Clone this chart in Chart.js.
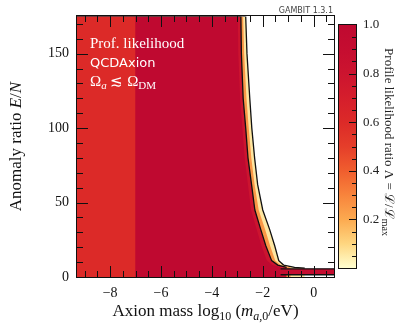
<!DOCTYPE html>
<html>
<head>
<meta charset="utf-8">
<script src="https://cdn.jsdelivr.net/npm/chart.js@4.4.1/dist/chart.umd.min.js"></script>
<style>
  html, body { margin: 0; padding: 0; background: #fff; overflow: hidden; }
  #wrap { position: relative; width: 407px; height: 331px; }
  #main { position: absolute; left: 0; top: 0; }
</style>
</head>
<body>
<div id="wrap">
  <canvas id="main" width="407" height="331"></canvas>
</div>
<script>
// Axis ranges and tick labels
const massRange = [-9.3, 0.8];
const ratioRange = [0, 175];
const massTicks = [-8, -6, -4, -2, 0];
const ratioTicks = [0, 50, 100, 150];
const lambdaTicks = [0.2, 0.4, 0.6, 0.8, 1.0];

// Contour edges: E/N against log10(m_a,0 / eV)
const fringeRatio = [175, 150, 120, 100, 80, 62, 45, 32, 21, 11, 8, 6.5];
const fringeMass = [-2.98, -2.96, -2.89, -2.80, -2.71, -2.58, -2.46, -2.24, -2.05, -1.84, -1.62, -1.30];
const innerRatio = [175, 150, 120, 100, 80, 62, 45, 32, 21, 11, 8, 6.5];
const innerMass = [-2.86, -2.84, -2.77, -2.67, -2.58, -2.44, -2.31, -2.08, -1.88, -1.65, -1.41, -1.06];
const midRatio = [175, 150, 120, 100, 80, 62, 45, 32, 21, 11, 8, 6.4];
const midMass = [-2.77, -2.73, -2.64, -2.55, -2.45, -2.32, -2.16, -1.91, -1.71, -1.51, -1.30, -0.90];
const outerRatio = [175, 150, 120, 100, 80, 62, 45, 32, 21, 11, 8, 6.5, 6.0];
const outerMass = [-2.67, -2.62, -2.51, -2.43, -2.32, -2.20, -2.00, -1.73, -1.53, -1.37, -1.18, -0.75, -0.35];

// Low-mass strip and the narrow E/N ~ 2 band at high mass
const lowMassEdge = -7.0;
const bandMass = [-1.3, 0.8];
const bandRatio = [1.5, 5.5];

// Profile likelihood ratio of each region
const lambdaLowMass = 0.6;
const lambdaBulk = 1.0;
const lambdaFringe = 0.8;
const lambdaBand = 0.9;
const lambdaOrange = 0.25;
const lambdaYellow = 0.06;

// colour map (pale yellow -> orange -> crimson)
const cmapStops = [
  [0.0, [255, 255, 208]], [0.1, [254, 214, 128]], [0.2, [252, 170, 80]],
  [0.3, [248, 132, 60]], [0.4, [240, 94, 46]], [0.5, [229, 62, 42]],
  [0.6, [220, 42, 40]], [0.7, [213, 30, 44]], [0.8, [204, 20, 47]],
  [0.9, [197, 13, 48]], [1.0, [191, 9, 48]]
];

function cmap(v) {
    for (let i = 1; i < cmapStops.length; i++) {
        const [v1, c1] = cmapStops[i];
        const [v0, c0] = cmapStops[i - 1];
        if (v <= v1) {
            const t = (v - v0) / (v1 - v0);
            const c = c0.map((k, j) => Math.round(k + t * (c1[j] - k)));
            return `rgb(${c[0]}, ${c[1]}, ${c[2]})`;
        }
    }
    const c = cmapStops[cmapStops.length - 1][1];
    return `rgb(${c[0]}, ${c[1]}, ${c[2]})`;
}

// contour polygon: start at top-left corner, then follow the edge down
function edgePoints(masses, ratios) {
    const pts = [{ x: massRange[0], y: ratios[0] }];
    masses.forEach((m, i) => pts.push({ x: m, y: ratios[i] }));
    return pts;
}

function minus(v) {
    return v < 0 ? '\u2212' + Math.abs(v) : String(v);
}

// draw a run of text pieces [text, font, dy] centred on x
function drawRich(ctx, parts, x, y, align) {
    let w = 0;
    parts.forEach(p => { ctx.font = p[1]; w += ctx.measureText(p[0]).width; });
    let cx = align === 'left' ? x : x - w / 2;
    ctx.textAlign = 'left';
    ctx.textBaseline = 'alphabetic';
    parts.forEach(p => {
        ctx.font = p[1];
        ctx.fillText(p[0], cx, y + (p[2] || 0));
        cx += ctx.measureText(p[0]).width;
    });
}

const SERIF = 'Liberation Serif';
const SANS = 'DejaVu Sans';
const INK = '#111111';

// colour bar box (canvas pixels)
const CB = { left: 339, right: 356, top: 25, bottom: 268 };

function drawColorbar(ctx) {
    const h = CB.bottom - CB.top;
    const toPx = v => CB.bottom - v * h;
    const g = ctx.createLinearGradient(0, CB.bottom, 0, CB.top);
    cmapStops.forEach(([v]) => g.addColorStop(v, cmap(v)));
    ctx.fillStyle = g;
    ctx.fillRect(CB.left, CB.top, CB.right - CB.left, h);
    ctx.fillStyle = INK;
    for (let k = 1; k < 20; k++) {
        const py = Math.round(toPx(k / 20));
        const len = k % 4 === 0 ? 7 : 4;
        ctx.fillRect(CB.right - len, py, len, 1);
    }
    ctx.fillRect(CB.left - 1, CB.top - 1, CB.right - CB.left + 2, 1);
    ctx.fillRect(CB.left - 1, CB.bottom, CB.right - CB.left + 2, 1);
    ctx.fillRect(CB.left - 1, CB.top - 1, 1, h + 2);
    ctx.fillRect(CB.right, CB.top - 1, 1, h + 2);

    ctx.fillStyle = '#222';
    ctx.font = `13px ${SERIF}`;
    ctx.textAlign = 'left';
    ctx.textBaseline = 'middle';
    lambdaTicks.forEach(v => ctx.fillText(v.toFixed(1), CB.right + 7, toPx(v)));

    ctx.save();
    ctx.translate(385, 142);
    ctx.rotate(Math.PI / 2);
    drawRich(ctx, [
        ['Profile likelihood ratio \u039B = \u2112/\u2112', `13px ${SERIF}`],
        ['max', `10px ${SERIF}`, 3]
    ], 0, 0);
    ctx.restore();
}

const mainDecor = {
    id: 'mainDecor',
    afterDraw(chart) {
        const { ctx, chartArea: a } = chart;
        const xs = chart.scales.x, ys = chart.scales.y;
        const L = Math.round(a.left), R = Math.round(a.right);
        const T = Math.round(a.top), B = Math.round(a.bottom);
        ctx.save();
        ctx.globalCompositeOperation = 'source-over';
        ctx.globalAlpha = 1;
        ctx.fillStyle = INK;
        // ticks inside the frame on all four sides
        for (let k = -18; k <= 1; k++) {
            const px = Math.round(xs.getPixelForValue(k / 2));
            const len = k % 4 === 0 ? 11 : 6;
            ctx.fillRect(px, B - len, 1, len);
            ctx.fillRect(px, T, 1, len);
        }
        for (let v = 0; v <= 170; v += 10) {
            const py = Math.round(ys.getPixelForValue(v));
            const len = v % 50 === 0 ? 11 : 6;
            ctx.fillRect(L, py, len, 1);
            ctx.fillRect(R - len, py, len, 1);
        }
        // frame
        ctx.fillRect(L - 1, T - 1, R - L + 2, 1);
        ctx.fillRect(L - 1, B, R - L + 2, 1);
        ctx.fillRect(L - 1, T - 1, 1, B - T + 2);
        ctx.fillRect(R, T - 1, 1, B - T + 2);

        // annotation in the top-left corner
        ctx.fillStyle = '#ffffff';
        drawRich(ctx, [['Prof. likelihood', `15px ${SERIF}`]], L + 13, 48, 'left');
        drawRich(ctx, [['QCDAxion', `13px ${SANS}`]], L + 13, 67, 'left');
        drawRich(ctx, [
            ['\u03A9', `15px ${SERIF}`],
            ['a', `italic 11px ${SERIF}`, 3],
            [' \u2272 ', `15px ${SERIF}`],
            ['\u03A9', `15px ${SERIF}`],
            ['DM', `11px ${SERIF}`, 3]
        ], L + 13, 86, 'left');

        // version stamp
        ctx.fillStyle = '#444';
        ctx.font = `8px ${SANS}`;
        ctx.textAlign = 'right';
        ctx.textBaseline = 'alphabetic';
        ctx.fillText('GAMBIT 1.3.1', R - 1, 13);

        // axis titles
        ctx.fillStyle = '#111';
        drawRich(ctx, [
            ['Axion mass log', `17px ${SERIF}`],
            ['10', `12px ${SERIF}`, 4],
            [' (', `17px ${SERIF}`],
            ['m', `italic 17px ${SERIF}`],
            ['a', `italic 12px ${SERIF}`, 4],
            [',0', `12px ${SERIF}`, 4],
            ['/eV)', `17px ${SERIF}`]
        ], (L + R) / 2, 316);

        ctx.save();
        ctx.translate(21, (T + B) / 2);
        ctx.rotate(-Math.PI / 2);
        drawRich(ctx, [
            ['Anomaly ratio ', `17px ${SERIF}`],
            ['E', `italic 17px ${SERIF}`],
            ['/', `17px ${SERIF}`],
            ['N', `italic 17px ${SERIF}`]
        ], 0, 0);
        ctx.restore();

        drawColorbar(ctx);
        ctx.restore();
    }
};

Chart.defaults.font.family = SERIF;

new Chart(document.getElementById('main'), {
    type: 'line',
    data: {
        datasets: [
            {
                // lower edge of the E/N ~ 2 band
                data: [{ x: bandMass[0], y: bandRatio[0] }, { x: bandMass[1], y: bandRatio[0] }],
                borderColor: INK, borderWidth: 1.3, fill: false
            },
            {
                data: [{ x: bandMass[0], y: bandRatio[1] }, { x: bandMass[1], y: bandRatio[1] }],
                borderColor: INK, borderWidth: 1.3,
                backgroundColor: cmap(lambdaBand), fill: { value: bandRatio[0] }
            },
            {
                // low-mass region
                data: [{ x: massRange[0], y: ratioRange[1] }, { x: lowMassEdge, y: ratioRange[1] }],
                borderWidth: 0, backgroundColor: cmap(lambdaLowMass), fill: 'start'
            },
            {
                // bulk
                data: edgePoints(fringeMass, fringeRatio),
                borderWidth: 0, backgroundColor: cmap(lambdaBulk), fill: 'start'
            },
            {
                // inner contour
                data: edgePoints(innerMass, innerRatio),
                borderColor: INK, borderWidth: 1.3,
                backgroundColor: cmap(lambdaFringe), fill: 'start'
            },
            {
                data: edgePoints(midMass, midRatio),
                borderWidth: 0, backgroundColor: cmap(lambdaOrange), fill: 'start'
            },
            {
                // outer contour
                data: edgePoints(outerMass, outerRatio),
                borderColor: INK, borderWidth: 1.3,
                backgroundColor: cmap(lambdaYellow), fill: 'start'
            }
        ]
    },
    options: {
        responsive: false,
        devicePixelRatio: 1,
        animation: false,
        layout: { padding: { top: 16, right: 73, left: 0, bottom: 0 } },
        elements: { point: { radius: 0 }, line: { tension: 0 } },
        plugins: { legend: { display: false }, tooltip: { enabled: false } },
        scales: {
            x: {
                type: 'linear',
                min: massRange[0], max: massRange[1],
                afterFit: s => { s.height = 54; },
                afterBuildTicks: s => { s.ticks = massTicks.map(v => ({ value: v })); },
                grid: { display: false, drawTicks: false },
                border: { display: false },
                ticks: { padding: 8, color: '#111', font: { size: 14 }, maxRotation: 0, callback: v => minus(v) }
            },
            y: {
                type: 'linear',
                min: ratioRange[0], max: ratioRange[1],
                afterFit: s => { s.width = 77; },
                afterBuildTicks: s => { s.ticks = ratioTicks.map(v => ({ value: v })); },
                grid: { display: false, drawTicks: false },
                border: { display: false },
                ticks: { padding: 8, color: '#111', font: { size: 14 } }
            }
        }
    },
    plugins: [mainDecor]
});
</script>
</body>
</html>
